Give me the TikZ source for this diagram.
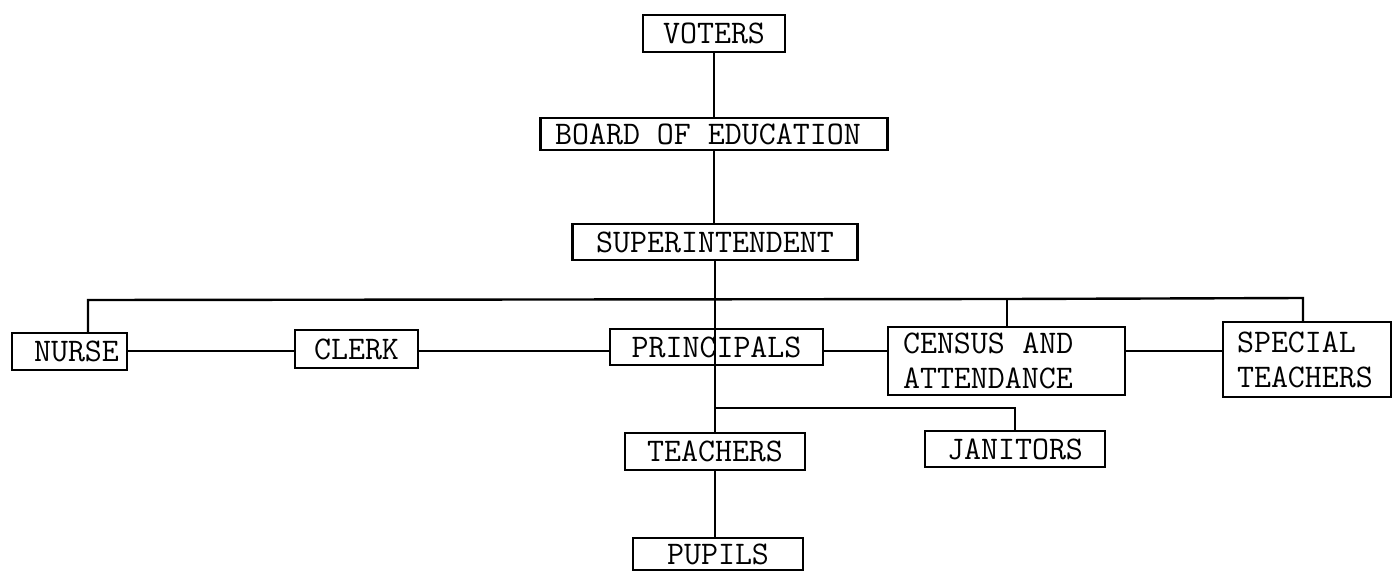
\documentclass[tikz,border=0pt]{standalone}
\usepackage{fontspec}
\begin{document}
\begin{tikzpicture}[x=1pt,y=-1pt,
  box/.style={draw, line width=2.3pt, rectangle, inner sep=0pt,
    font=\ttfamily\addfontfeatures{FakeBold=0.8}\fontsize{33}{35}\selectfont},
  conn/.style={line width=2.4pt}]
\useasboundingbox (0,0) rectangle (1392,572);
% boxes
\node[box, minimum width=142, minimum height=37] (voters) at (714,33.5) {VOTERS};
\node[box, minimum width=347, minimum height=32] (board) at (714,134) {\hspace*{-12pt}BOARD OF EDUCATION};
\node[box, minimum width=285, minimum height=36] (super) at (715,242) {SUPERINTENDENT};
\node[box, minimum width=115, minimum height=37] (nurse) at (69.5,351.5) {\hspace*{14pt}NURSE};
\node[box, minimum width=123, minimum height=38] (clerk) at (356.5,349) {CLERK};
\node[box, minimum width=213, minimum height=36] (principals) at (716.5,347) {PRINCIPALS};
\node[box, text width=207, inner xsep=15pt, minimum height=68, align=left] (census) at (1006.5,361) {CENSUS\hspace{0.525em}AND\\ATTENDANCE};
\node[box, text width=140, inner xsep=14pt, minimum height=75, align=left] (special) at (1307,359.5) {SPECIAL\\TEACHERS};
\node[box, minimum width=180, minimum height=37] (teachers) at (715,451.5) {TEACHERS};
\node[box, minimum width=180, minimum height=36] (janitors) at (1015,449) {JANITORS};
\node[box, minimum width=170, minimum height=32] (pupils) at (718,554) {PUPILS};
% helper coordinates
\coordinate (bL) at (88,300);
\coordinate (bC) at (1007,299);
\coordinate (bR) at (1303,298);
\coordinate (row) at (0,351);
\coordinate (jb) at (715,408);
% connectors
\draw[conn] (voters.south) -- (board.north -| voters.south);
\draw[conn] (board.south) -- (super.north -| board.south);
\draw[conn] (super.south) -- (teachers.north -| super.south);
\draw[conn] (teachers.south) -- (pupils.north -| teachers.south);
\draw[conn] (nurse.north -| bL) -- (bL) -- (bC) -- (bR) -- (special.north -| bR);
\draw[conn] (bC) -- (census.north -| bC);
\draw[conn] (nurse.east |- row) -- (clerk.west |- row);
\draw[conn] (clerk.east |- row) -- (principals.west |- row);
\draw[conn] (principals.east |- row) -- (census.west |- row);
\draw[conn] (census.east |- row) -- (special.west |- row);
\draw[conn] (jb) -| (janitors.north);
\end{tikzpicture}
\end{document}
